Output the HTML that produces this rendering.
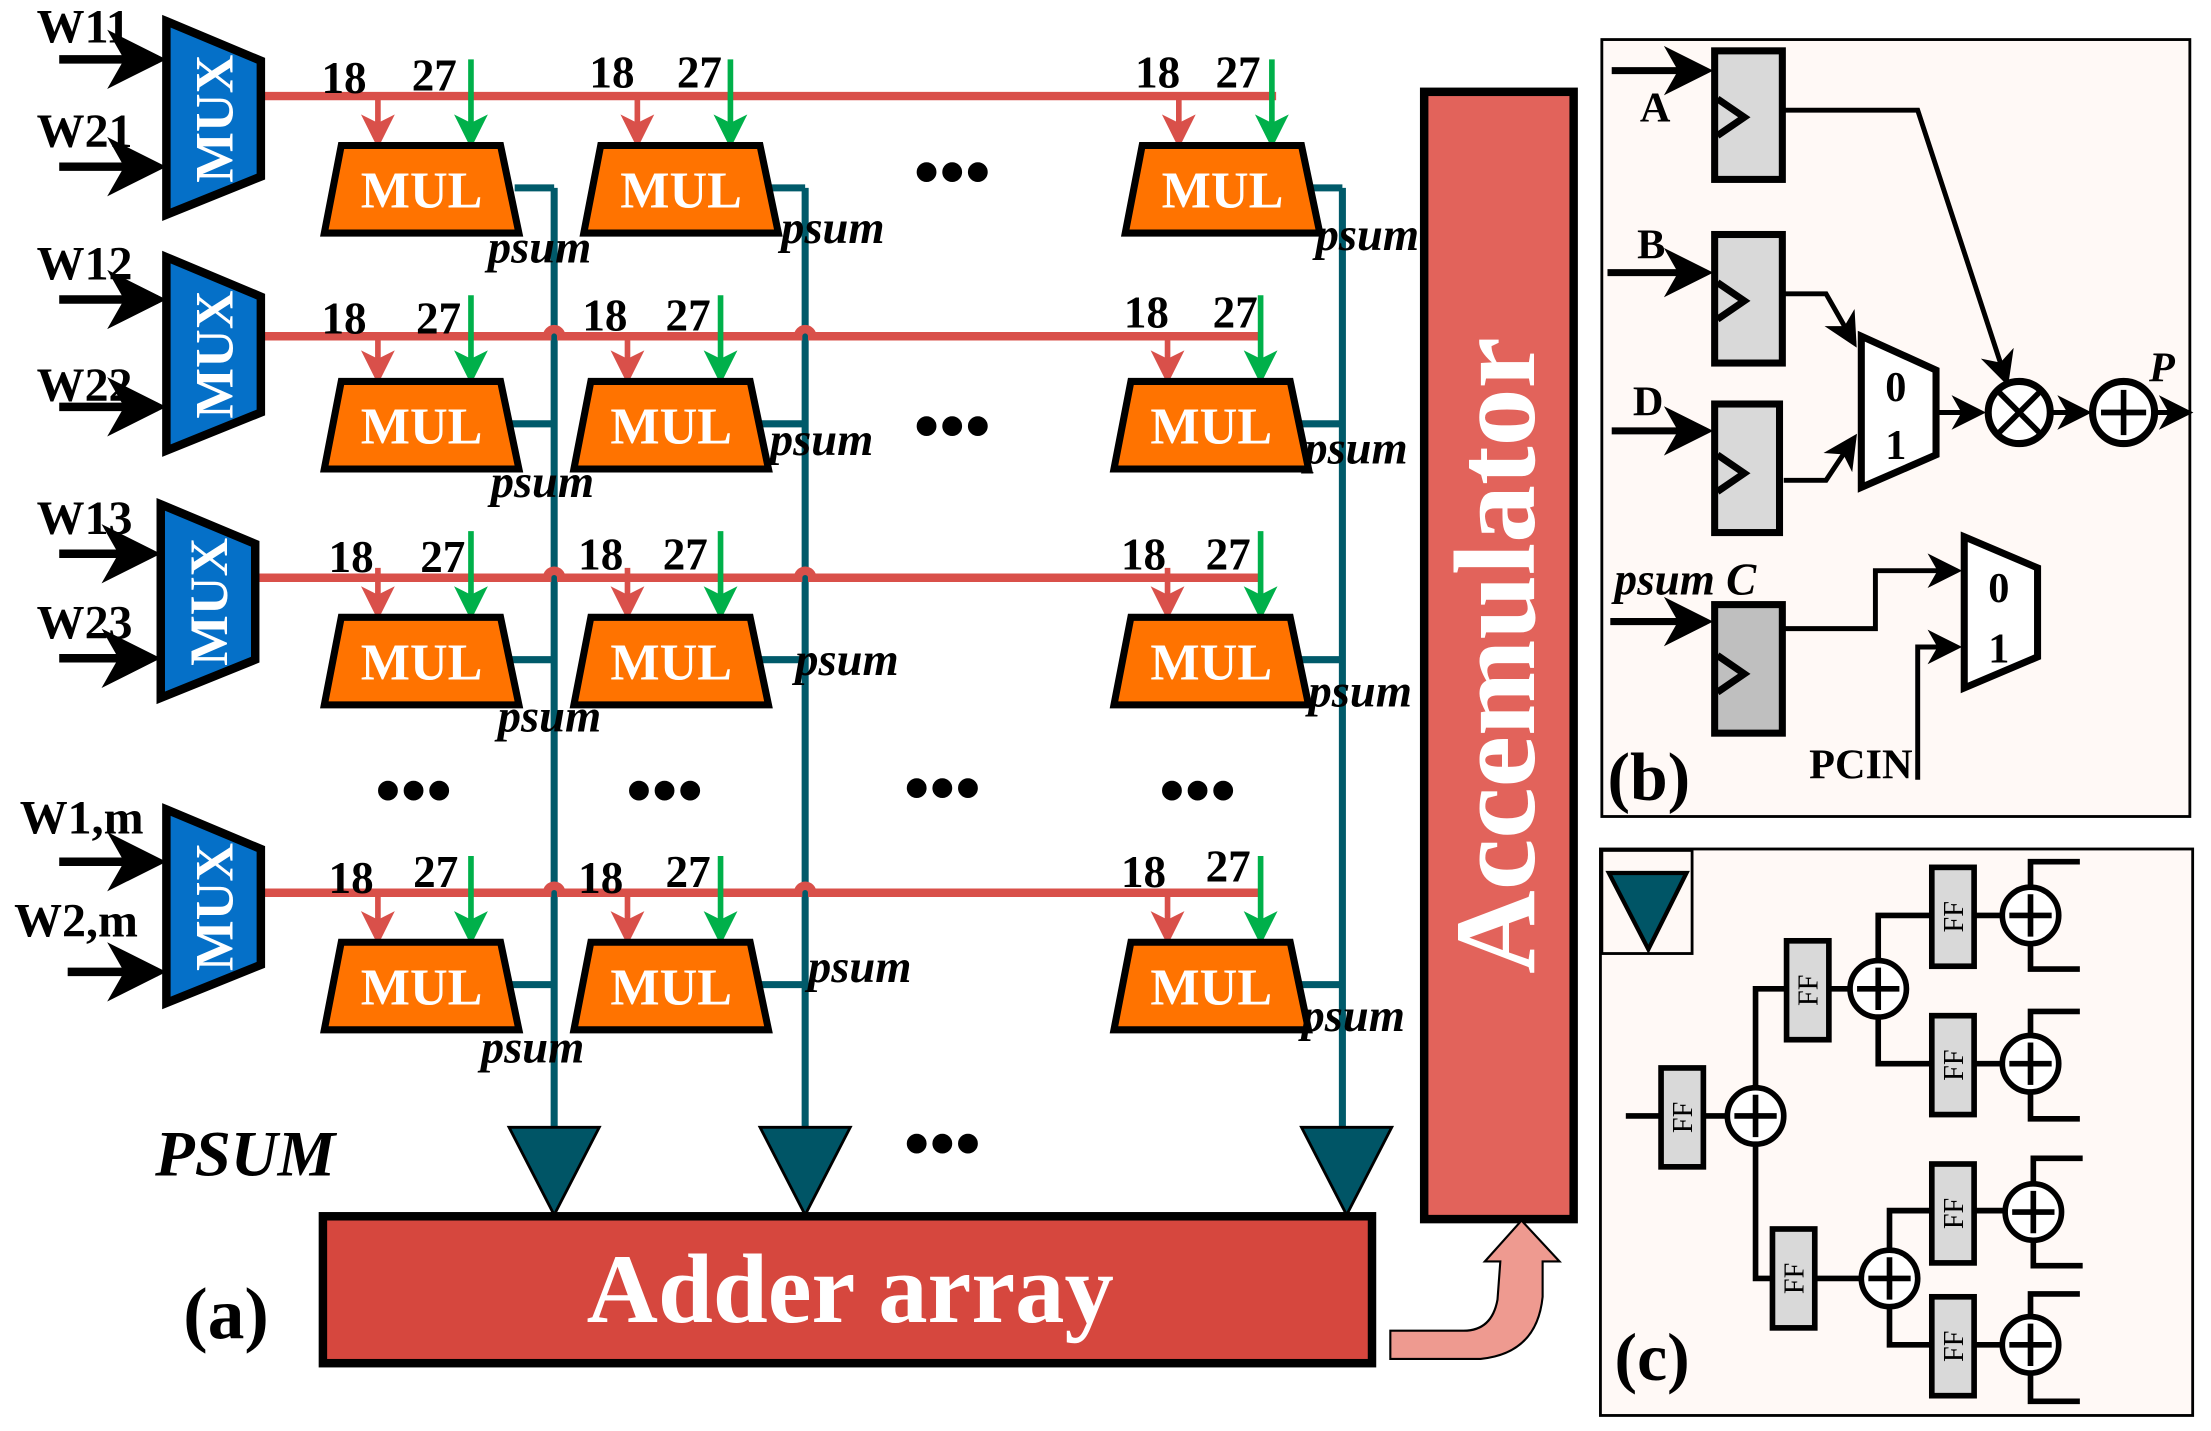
<!DOCTYPE html>
<html><head><meta charset="utf-8"><style>html,body{margin:0;padding:0;background:#fff}svg{display:block}</style></head><body>
<svg width="2211" height="1431" viewBox="0 0 1568 1013" preserveAspectRatio="none" xmlns="http://www.w3.org/2000/svg" font-family="Liberation Serif, serif" font-weight="bold">
<defs>
<marker id="ar" markerWidth="6" markerHeight="6" refX="5" refY="3" orient="auto" markerUnits="strokeWidth"><path d="M0,0 L6,3 L0,6 L1.5,3z" fill="#d9504a"/></marker>
<marker id="ag" markerWidth="6" markerHeight="6" refX="5" refY="3" orient="auto" markerUnits="strokeWidth"><path d="M0,0 L6,3 L0,6 L1.5,3z" fill="#00b04a"/></marker>
<marker id="ak" markerWidth="7" markerHeight="7" refX="6" refY="3.5" orient="auto" markerUnits="strokeWidth"><path d="M0,0 L7,3.5 L0,7 L2,3.5z" fill="#000"/></marker>
<g id="mul">
<line x1="38" y1="-35" x2="38" y2="-2" stroke="#d9504a" stroke-width="4" marker-end="url(#ar)"/>
<line x1="104" y1="-61" x2="104" y2="-2" stroke="#00b04a" stroke-width="4" marker-end="url(#ag)"/>
<polygon points="12,0 125,0 138,62 0,62" fill="#ff7300" stroke="#000" stroke-width="5"/>
<text x="69" y="44" fill="#fff" font-size="37" text-anchor="middle">MUL</text>
</g>
<g id="mux">
<polygon points="0,0 67,28 67,110 0,137" fill="#0570c8" stroke="#000" stroke-width="6"/>
<text transform="translate(47,69) rotate(-90)" fill="#fff" font-size="38" text-anchor="middle">MUX</text>
</g>
<g id="ff"><rect x="0" y="0" width="30" height="70" fill="#d9d9d9" stroke="#000" stroke-width="4"/><text transform="translate(22,35) rotate(-90)" font-size="20" text-anchor="middle" font-weight="normal">FF</text></g>
<g id="add"><circle r="20" fill="#fff" stroke="#000" stroke-width="4"/><line x1="-15" y1="0" x2="15" y2="0" stroke="#000" stroke-width="4"/><line x1="0" y1="-15" x2="0" y2="15" stroke="#000" stroke-width="4"/></g>
<g id="tri"><polygon points="-32,0 32,0 0,62" fill="#005566" stroke="#000" stroke-width="2"/></g>
</defs>

<g stroke="#005a6a" stroke-width="5" fill="none">
<path d="M393,133 V800 M571,133 V800 M952,133 V800"/>
<path d="M365,133 H393 M545,133 H571 M930,133 H952"/>
<path d="M360,300 H393 M540,300 H571 M920,300 H952"/>
<path d="M360,467 H393 M540,467 H571 M920,467 H952"/>
<path d="M360,697 H393 M540,697 H571 M920,697 H952"/>
</g>
<g stroke="#d9504a" stroke-width="6" fill="none">
<path d="M185,68 H905"/>
<path d="M183,238 H388 a5,5 0 0 1 10,0 H566 a5,5 0 0 1 10,0 H893"/>
<path d="M178,409 H388 a5,5 0 0 1 10,0 H566 a5,5 0 0 1 10,0 H893"/>
<path d="M183,632 H388 a5,5 0 0 1 10,0 H566 a5,5 0 0 1 10,0 H893"/>
</g>

<use href="#mux" x="118" y="15"/>
<use href="#mux" x="118" y="182"/>
<use href="#mux" x="114" y="357"/>
<use href="#mux" x="118" y="573"/>
<g stroke="#000" stroke-width="6" marker-end="url(#ak)">
<line x1="42" y1="42" x2="112" y2="42"/><line x1="42" y1="118" x2="112" y2="118"/>
<line x1="42" y1="212" x2="112" y2="212"/><line x1="42" y1="288" x2="112" y2="288"/>
<line x1="42" y1="392" x2="108" y2="392"/><line x1="42" y1="466" x2="108" y2="466"/>
<line x1="42" y1="610" x2="112" y2="610"/><line x1="48" y1="688" x2="112" y2="688"/>
</g>
<g font-size="34">
<text x="26" y="30">W11</text><text x="26" y="104">W21</text>
<text x="26" y="198">W12</text><text x="26" y="284">W22</text>
<text x="26" y="378">W13</text><text x="26" y="452">W23</text>
<text x="14" y="590">W1,m</text><text x="10" y="663">W2,m</text>
</g>

<use href="#mul" x="230" y="103"/><use href="#mul" x="414" y="103"/><use href="#mul" x="798" y="103"/>
<use href="#mul" x="230" y="270"/><use href="#mul" x="407" y="270"/><use href="#mul" x="790" y="270"/>
<use href="#mul" x="230" y="437"/><use href="#mul" x="407" y="437"/><use href="#mul" x="790" y="437"/>
<use href="#mul" x="230" y="667"/><use href="#mul" x="407" y="667"/><use href="#mul" x="790" y="667"/>

<g font-size="32">
<text x="228" y="66">18</text><text x="292" y="64">27</text><text x="418" y="62">18</text><text x="480" y="62">27</text><text x="805" y="62">18</text><text x="862" y="62">27</text>
<text x="228" y="236">18</text><text x="295" y="236">27</text><text x="413" y="234">18</text><text x="472" y="234">27</text><text x="797" y="232">18</text><text x="860" y="232">27</text>
<text x="233" y="405">18</text><text x="298" y="405">27</text><text x="410" y="403">18</text><text x="470" y="403">27</text><text x="795" y="403">18</text><text x="855" y="403">27</text>
<text x="233" y="632">18</text><text x="293" y="628">27</text><text x="410" y="632">18</text><text x="472" y="628">27</text><text x="795" y="628">18</text><text x="855" y="624">27</text>
</g>
<g font-size="33" font-style="italic">
<text x="346" y="186">psum</text><text x="554" y="172">psum</text><text x="933" y="177">psum</text>
<text x="348" y="352">psum</text><text x="546" y="322">psum</text><text x="925" y="328">psum</text>
<text x="353" y="518">psum</text><text x="564" y="478">psum</text><text x="928" y="500">psum</text>
<text x="341" y="752">psum</text><text x="573" y="695">psum</text><text x="923" y="730">psum</text>
</g>
<g font-size="52">
<text x="648" y="139">•••</text><text x="648" y="319">•••</text>
<text x="266" y="577">•••</text><text x="444" y="577">•••</text><text x="641" y="575">•••</text><text x="822" y="577">•••</text>
<text x="641" y="827">•••</text>
</g>
<text x="110" y="832" font-size="46" font-style="italic">PSUM</text>
<text x="130" y="947" font-size="52">(a)</text>

<use href="#tri" x="393" y="798"/><use href="#tri" x="571" y="798"/><use href="#tri" x="955" y="798"/>
<rect x="229" y="861" width="744" height="104" fill="#d6473e" stroke="#000" stroke-width="6"/>
<text x="603" y="936" fill="#fff" font-size="70" text-anchor="middle">Adder array</text>
<rect x="1010" y="65" width="106" height="798" fill="#e2635b" stroke="#000" stroke-width="6"/>
<text transform="translate(1088,464) rotate(-90)" fill="#fff" font-size="82" text-anchor="middle">Accemulator</text>
<path d="M986,942 H1038 Q1058,942 1062,920 L1064,893 H1053 L1079,864 L1106,893 H1094 L1094,918 Q1090,958 1050,962 H986 Z" fill="#ee9a90" stroke="#000" stroke-width="1.5"/>

<rect x="1136" y="28" width="417" height="550" fill="#fff9f6" stroke="#000" stroke-width="2"/>
<g stroke="#000" stroke-width="5" fill="none">
<line x1="1143" y1="50" x2="1210" y2="50" marker-end="url(#ak)"/>
<line x1="1140" y1="193" x2="1210" y2="193" marker-end="url(#ak)"/>
<line x1="1143" y1="305" x2="1210" y2="305" marker-end="url(#ak)"/>
<line x1="1142" y1="440" x2="1210" y2="440" marker-end="url(#ak)"/>
</g>
<g stroke="#000" stroke-width="5">
<rect x="1216" y="36" width="48" height="91" fill="#d9d9d9"/>
<rect x="1216" y="166" width="48" height="91" fill="#d9d9d9"/>
<rect x="1216" y="286" width="46" height="91" fill="#d9d9d9"/>
<rect x="1216" y="428" width="48" height="91" fill="#bfbfbf"/>
<path d="M1218,70 L1237,83 L1218,96 M1218,200 L1237,213 L1218,226 M1218,322 L1237,335 L1218,348 M1218,464 L1237,477 L1218,490" fill="none"/>
</g>
<g stroke="#000" stroke-width="3.5" fill="none">
<polyline points="1265,78 1360,78 1423,270" marker-end="url(#ak)"/>
<polyline points="1265,208 1295,208 1315,243" marker-end="url(#ak)"/>
<polyline points="1265,340 1295,340 1315,310" marker-end="url(#ak)"/>
<line x1="1374" y1="292" x2="1405" y2="292" marker-end="url(#ak)"/>
<line x1="1455" y1="292" x2="1480" y2="292" marker-end="url(#ak)"/>
<line x1="1528" y1="292" x2="1552" y2="292" marker-end="url(#ak)"/>
<polyline points="1265,445 1330,445 1330,404 1388,404" marker-end="url(#ak)"/>
<polyline points="1360,552 1360,458 1388,458" marker-end="url(#ak)"/>
</g>
<g stroke="#000" stroke-width="5" fill="#fff">
<polygon points="1320,238 1373,262 1373,322 1320,345"/>
<polygon points="1393,380 1445,402 1445,465 1393,487"/>
<circle cx="1432" cy="292" r="22"/><circle cx="1506" cy="292" r="22"/>
</g>
<g stroke="#000" stroke-width="4"><path d="M1417,277 L1447,307 M1447,277 L1417,307 M1490,292 H1522 M1506,276 V308"/></g>
<g font-size="30"><text x="1337" y="284">0</text><text x="1337" y="325">1</text><text x="1410" y="426">0</text><text x="1410" y="469">1</text>
<text x="1163" y="86">A</text><text x="1161" y="183">B</text><text x="1158" y="294">D</text><text x="1283" y="551">PCIN</text></g>
<text x="1145" y="421" font-size="32" font-style="italic">psum C</text>
<text x="1524" y="270" font-size="30" font-style="italic">P</text>
<text x="1140" y="566" font-size="48">(b)</text>

<rect x="1135" y="601" width="420" height="401" fill="#fff9f6" stroke="#000" stroke-width="2"/>
<rect x="1136" y="602" width="64" height="73" fill="none" stroke="#000" stroke-width="2"/>
<polygon points="1141,618 1196,618 1169,672" fill="#005566" stroke="#000" stroke-width="3"/>
<g stroke="#000" stroke-width="4" fill="none">
<path d="M1153,790 H1245 M1245,790 V700 H1332 M1245,790 V905 H1336"/>
<path d="M1332,700 V648 H1440 M1332,700 V753 H1440"/>
<path d="M1340,905 V857 H1442 M1340,905 V952 H1440"/>
<path d="M1475,610 H1440 V686 H1475 M1475,716 H1440 V792 H1475 M1477,820 H1442 V896 H1477 M1475,916 H1440 V992 H1475"/>
</g>
<use href="#ff" x="1178" y="756"/>
<use href="#ff" x="1267" y="666"/>
<use href="#ff" x="1257" y="870"/>
<use href="#ff" x="1370" y="614"/>
<use href="#ff" x="1370" y="719"/>
<use href="#ff" x="1370" y="824"/>
<use href="#ff" x="1370" y="918"/>
<use href="#add" x="1245" y="790"/>
<use href="#add" x="1332" y="700"/>
<use href="#add" x="1340" y="905"/>
<use href="#add" x="1440" y="648"/>
<use href="#add" x="1440" y="753"/>
<use href="#add" x="1442" y="858"/>
<use href="#add" x="1440" y="952"/>
<text x="1145" y="977" font-size="48">(c)</text>
</svg>
</body></html>
